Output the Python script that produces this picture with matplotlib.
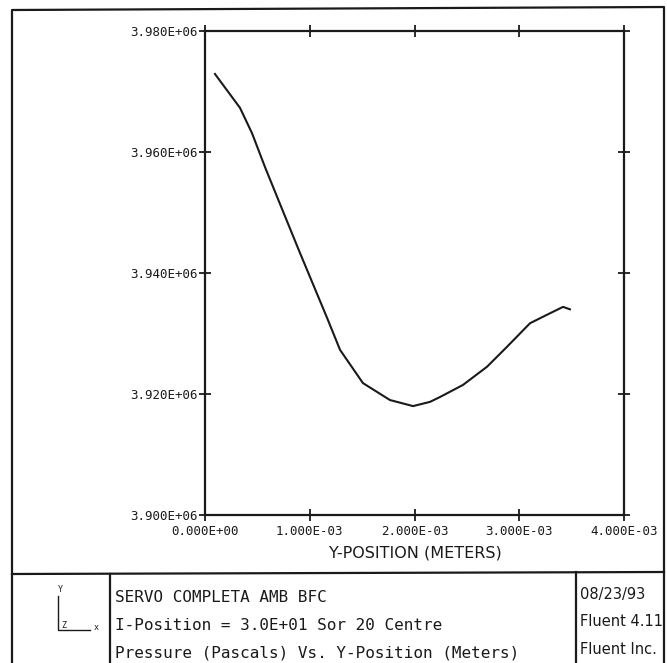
import matplotlib
matplotlib.use("Agg")
import matplotlib.pyplot as plt
from matplotlib.ticker import FormatStrFormatter

# pressure along the y-position line (Pa vs m)
y_pos = [0.095e-3, 0.334e-3, 0.449e-3, 0.573e-3, 0.735e-3, 0.907e-3, 1.165e-3,
         1.289e-3, 1.508e-3, 1.766e-3, 1.986e-3, 2.148e-3, 2.243e-3, 2.463e-3,
         2.692e-3, 2.883e-3, 3.103e-3, 3.265e-3, 3.418e-3, 3.484e-3]
pressure = [3.9729e6, 3.9673e6, 3.9631e6, 3.9575e6, 3.9506e6, 3.9433e6, 3.9326e6,
            3.9273e6, 3.9218e6, 3.9190e6, 3.9180e6, 3.9187e6, 3.9195e6, 3.9215e6,
            3.9245e6, 3.9278e6, 3.9317e6, 3.9331e6, 3.9344e6, 3.9340e6]

x_ticks = [0.0, 1.0e-3, 2.0e-3, 3.0e-3, 4.0e-3]
y_ticks = [3.90e6, 3.92e6, 3.94e6, 3.96e6, 3.98e6]

title_lines = ["SERVO COMPLETA AMB BFC",
               "I-Position = 3.0E+01 Sor 20 Centre",
               "Pressure (Pascals) Vs. Y-Position (Meters)"]
info_lines = ["08/23/93", "Fluent 4.11", "Fluent Inc."]

W, H = 667, 663
ink = "#1a1a1a"
mono = "DejaVu Sans Mono"

fig = plt.figure(figsize=(W / 100, H / 100), dpi=100)
fig.patch.set_facecolor("white")

# page frame + title block, drawn in pixel coordinates
frame = fig.add_axes([0, 0, 1, 1])
frame.set_xlim(0, W)
frame.set_ylim(H, 0)
frame.axis("off")
lw = 1.6
frame.plot([12, 12, 664, 664], [H, 10, 7, H], color=ink, lw=lw)
frame.plot([12, 664], [574, 572], color=ink, lw=lw)
frame.plot([110, 110], [574, H], color=ink, lw=lw)
frame.plot([576, 576], [572, H], color=ink, lw=lw)

# little axis triad
frame.plot([58, 58, 90], [596, 630, 630], color=ink, lw=1.0)
frame.text(60, 590, "Y", fontsize=6, family=mono, color=ink, ha="center", va="center")
frame.text(64, 626, "Z", fontsize=6, family=mono, color=ink, ha="center", va="center")
frame.text(96, 628, "x", fontsize=6, family=mono, color=ink, ha="center", va="center")

for i, s in enumerate(title_lines):
    frame.text(115, 597 + i * 28, s, fontsize=11.5, family=mono, color=ink,
               va="center", ha="left")
for i, s in enumerate(info_lines):
    frame.text(580, 594 + i * 28, s, fontsize=10.5, color=ink, va="center", ha="left")

# main plot
ax = fig.add_axes([205 / W, 1 - 515 / H, (624 - 205) / W, (515 - 31) / H])
ax.plot(y_pos, pressure, color=ink, lw=1.5)
ax.set_xlim(0, 4.0e-3)
ax.set_ylim(3.90e6, 3.98e6)
ax.set_xticks(x_ticks)
ax.set_yticks(y_ticks)
ax.xaxis.set_major_formatter(FormatStrFormatter("%.3E"))
ax.yaxis.set_major_formatter(FormatStrFormatter("%.3E"))
ax.tick_params(axis="both", direction="inout", length=9, width=1.3, color=ink,
               top=True, right=True, labelcolor=ink)
ax.tick_params(axis="y", pad=0.5)
ax.tick_params(axis="x", pad=3)
for lab in ax.get_xticklabels() + ax.get_yticklabels():
    lab.set_family(mono)
    lab.set_fontsize(9)
for sp in ax.spines.values():
    sp.set_linewidth(1.6)
    sp.set_color(ink)

frame.text(415, 553, "Y-POSITION (METERS)", fontsize=11.5, color=ink,
           ha="center", va="center")

fig.savefig("out.png", dpi=100, facecolor="white")
